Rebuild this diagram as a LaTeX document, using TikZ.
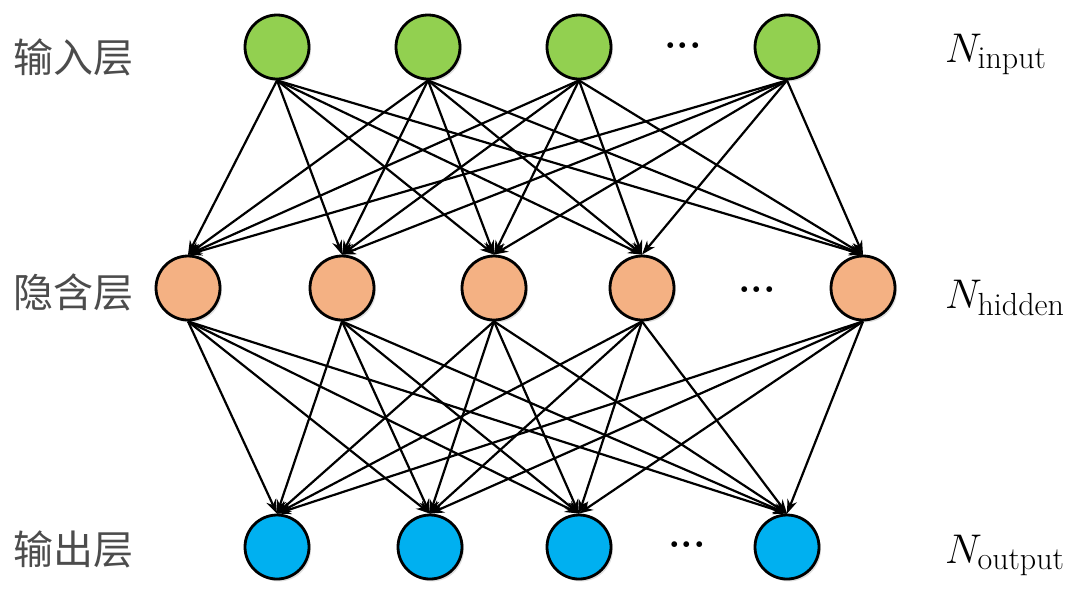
\documentclass[tikz,border=0pt]{standalone}
\usepackage{fontspec}
\usepackage{amsmath}
\usepackage{xcolor}
\usepackage{tikz}
\usetikzlibrary{arrows.meta,shadows}
\newfontfamily\cjk{Noto Sans CJK SC}
\definecolor{inpgreen}{HTML}{92D050}
\definecolor{hidorange}{HTML}{F4B183}
\definecolor{outblue}{HTML}{00B0F0}
\newcommand{\subtxt}[1]{\text{\fontsize{16}{18}\selectfont #1}}

\begin{document}
\begin{tikzpicture}[
  x=0.5pt, y=-0.5pt,
  >={Stealth[length=7pt,width=5pt]},
  neuron/.style={circle, draw=black, line width=1.4pt, minimum size=32pt, inner sep=0pt,
                 drop shadow={shadow xshift=1pt, shadow yshift=-1.2pt, opacity=0.25}},
  inp/.style={neuron, fill=inpgreen},
  hid/.style={neuron, fill=hidorange},
  outp/.style={neuron, fill=outblue},
  layer/.style={anchor=west, font=\cjk\fontsize{20}{24}\selectfont, text=black!70},
  count/.style={anchor=base west, font=\fontsize{20}{24}\selectfont},
  more/.style={font=\bfseries\fontsize{20}{20}\selectfont},
  conn/.style={->, line width=1.1pt}]
\useasboundingbox (0,0) rectangle (1080,601);
% input layer
\node[inp] (i1) at (277,47) {};
\node[inp] (i2) at (428,47) {};
\node[inp] (i3) at (579,47) {};
\node[inp] (i4) at (787,47) {};
\node[more] (idots) at (683,46) {...};
% hidden layer
\node[hid] (h1) at (188,288) {};
\node[hid] (h2) at (342,288) {};
\node[hid] (h3) at (494,288) {};
\node[hid] (h4) at (642,288) {};
\node[hid] (h5) at (863,288) {};
\node[more] (hdots) at (757,290) {...};
% output layer
\node[outp] (o1) at (277,547) {};
\node[outp] (o2) at (430,547) {};
\node[outp] (o3) at (579,547) {};
\node[outp] (o4) at (787,547) {};
\node[more] (odots) at (687,545) {...};
% labels
\node[layer] (lin) at (6,57) {输入层};
\node[layer] (lhid) at (6,292) {隐含层};
\node[layer] (lout) at (6,549) {输出层};
\node[count] (nin) at (938,62) {$N_{\subtxt{input}}$};
\node[count] (nhid) at (938,308) {$N_{\subtxt{hidden}}$};
\node[count] (nout) at (938,563) {$N_{\subtxt{output}}$};
% connections
\foreach \a in {1,...,4}
  \foreach \b in {1,...,5}
    \draw[conn] (i\a.south) -- (h\b.north);
\foreach \b in {1,...,5}
  \foreach \c in {1,...,4}
    \draw[conn] (h\b.south) -- (o\c.north);
\end{tikzpicture}
\end{document}
